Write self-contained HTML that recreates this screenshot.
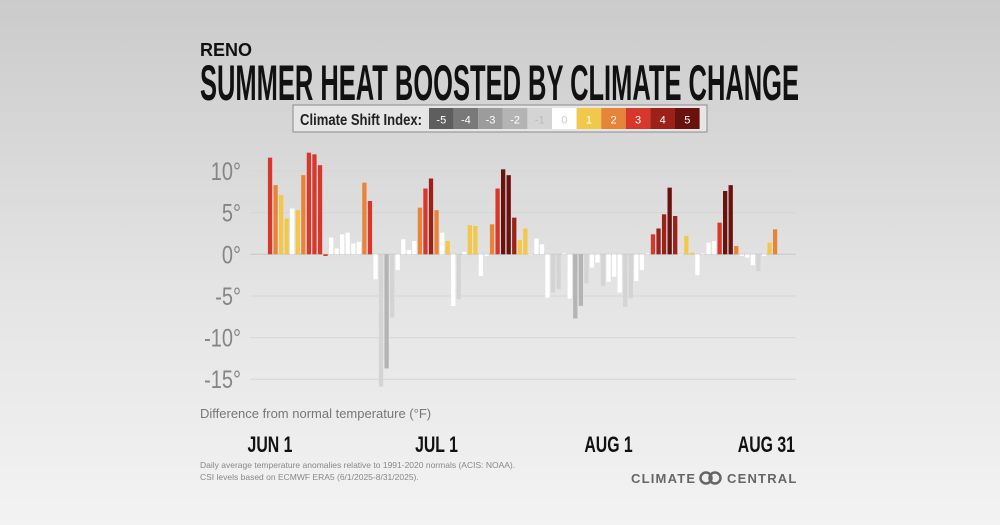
<!DOCTYPE html>
<html><head><meta charset="utf-8"><style>
html,body{margin:0;padding:0;width:1000px;height:525px;overflow:hidden}
svg{display:block}
</style></head><body>
<svg id="chart" width="1000" height="525" viewBox="0 0 1000 525" xmlns="http://www.w3.org/2000/svg">
<defs><linearGradient id="bg" x1="0" y1="0" x2="0" y2="1"><stop offset="0" stop-color="#cbcbcb"/><stop offset="0.55" stop-color="#e4e4e4"/><stop offset="1" stop-color="#f3f3f3"/></linearGradient></defs>
<rect width="1000" height="525" fill="url(#bg)"/>
<text x="200" y="56" font-family="Liberation Sans, sans-serif" font-weight="bold" font-size="18" fill="#111">RENO</text>
<text x="200" y="100" font-family="Liberation Sans, sans-serif" font-weight="bold" font-size="50" fill="#111" textLength="599" lengthAdjust="spacingAndGlyphs">SUMMER HEAT BOOSTED BY CLIMATE CHANGE</text>
<g>
<rect x="293" y="105" width="414" height="27" fill="#e6e6e6" stroke="#9a9a9a" stroke-width="1.2"/>
<text x="300" y="125" font-family="Liberation Sans, sans-serif" font-weight="bold" font-size="16" fill="#222" textLength="122" lengthAdjust="spacingAndGlyphs">Climate Shift Index:</text>
<g id="legendSw"></g>
</g>
<g id="grid"></g>
<g id="bars"></g>
<text x="200" y="418" font-family="Liberation Sans, sans-serif" font-size="13" fill="#777">Difference from normal temperature (°F)</text>
<g id="xlabels"></g>
<text x="200" y="468" font-family="Liberation Sans, sans-serif" font-size="8.5" fill="#888">Daily average temperature anomalies relative to 1991-2020 normals (ACIS: NOAA).</text>
<text x="200" y="480" font-family="Liberation Sans, sans-serif" font-size="8.5" fill="#888">CSI levels based on ECMWF ERA5 (6/1/2025-8/31/2025).</text>
<g>
<text x="631" y="483" font-family="Liberation Sans, sans-serif" font-weight="bold" font-size="13" fill="#666" letter-spacing="1.2">CLIMATE</text>
<circle cx="706" cy="478" r="5.5" fill="none" stroke="#666" stroke-width="2.5"/>
<circle cx="715" cy="478" r="5.5" fill="none" stroke="#666" stroke-width="2.5"/>
<text x="727" y="483" font-family="Liberation Sans, sans-serif" font-weight="bold" font-size="13" fill="#666" letter-spacing="1.2">CENTRAL</text>
</g>
</svg>
<script>
const values=[11.6,8.3,7.1,4.3,5.5,5.3,9.5,12.2,12.0,10.7,-0.2,2.0,0.7,2.4,2.6,1.3,1.5,8.6,6.4,-3.0,-15.9,-13.7,-7.6,-1.9,1.8,0.5,1.6,5.6,7.9,9.1,5.3,2.6,1.6,-6.2,-5.4,0.3,3.5,3.4,-2.6,-0.2,3.6,7.9,10.2,9.5,4.4,1.7,3.1,0,1.9,1.2,-5.2,-4.6,-4.2,0.1,-5.3,-7.7,-6.2,-3.5,-1.6,-1.0,-3.8,-3.3,-2.7,-4.6,-6.3,-5.3,-3.2,-1.9,0.1,2.4,3.1,4.8,8.0,4.6,0,2.2,0.2,-2.5,0.1,1.4,1.6,3.8,7.6,8.3,1.0,-0.2,-0.4,-1.3,-2.0,-0.2,1.4,3.0];
const csi=[3,2,1,1,0,1,2,3,3,3,3,0,0,0,0,0,0,2,3,0,-1,-2,-1,0,0,0,0,2,3,4,2,0,1,0,-1,0,1,1,0,0,2,3,5,5,4,1,1,0,0,0,0,-1,-1,0,0,-2,-2,-1,0,0,-1,0,0,0,-1,-1,0,0,0,3,4,4,5,4,0,1,1,0,0,0,0,3,5,5,2,0,0,0,-1,0,1,2];
const yTicks=[10,5,0,-5,-10,-15];
const yTickLabels=["10°","5°","0°","-5°","-10°","-15°"];
const xLabelDays=[0,30,61,91];
const xLabels=["JUN 1","JUL 1","AUG 1","AUG 31"];
const legendLevels=[-5,-4,-3,-2,-1,0,1,2,3,4,5];
const colors={"-5":"#5e5e5e","-4":"#797979","-3":"#9c9c9c","-2":"#b4b4b4","-1":"#d4d4d4","0":"#ffffff","1":"#f2c84b","2":"#e8833a","3":"#d8372c","4":"#9c2219","5":"#6a120d"};
const NS="http://www.w3.org/2000/svg";
const y=v=>254.3-v*8.33;
const x=i=>270+i*5.55;
function mk(t,a,p){const e=document.createElementNS(NS,t);for(const k in a)e.setAttribute(k,a[k]);p.appendChild(e);return e;}
const grid=document.getElementById('grid');
yTicks.forEach((t,i)=>{
  const l=mk('line',{x1:250,x2:796,y1:y(t),y2:y(t),stroke:t===0?'#c8c8c8':'#d6d6d6','stroke-width':1},grid);
  
  
  const tx=mk('text',{x:241,y:y(t)+9,'text-anchor':'end','font-family':'Liberation Sans, sans-serif','font-size':25,fill:'#858585',transform:`translate(241 0) scale(0.8 1) translate(-241 0)`},grid);
  tx.textContent=yTickLabels[i];
  
  
});
const bars=document.getElementById('bars');
values.forEach((v,i)=>{
  const top=Math.min(y(v),y(0)),h=Math.max(Math.abs(y(v)-y(0)),0.6);
  const r=mk('rect',{x:x(i)-2.1,y:top,width:4.3,height:h,fill:colors[String(csi[i])]},bars);
  
  
});
const xl=document.getElementById('xlabels');
xLabelDays.forEach((d,i)=>{
  const last=i===xLabelDays.length-1;
  const ax=last?795:x(d);
  const t=mk('text',{x:ax,y:452,'text-anchor':last?'end':'middle','font-family':'Liberation Sans, sans-serif','font-weight':'bold','font-size':22,fill:'#111',transform:`translate(${ax} 0) scale(0.72 1) translate(${-ax} 0)`},xl);
  t.textContent=xLabels[i];
  
  
});
const lg=document.getElementById('legendSw');
legendLevels.forEach((lv,i)=>{
  const sx=429+i*24.6;
  const r=mk('rect',{x:sx,y:108,width:24.6,height:21,fill:colors[String(lv)]},lg);
  
  
  const t=mk('text',{x:sx+12.3,y:123.5,'text-anchor':'middle','font-family':'Liberation Sans, sans-serif','font-size':11,fill:lv===0?'#ccc':(lv===-1?'#bbb':'#fff')},lg);
  t.textContent=String(lv);
  
  
});
</script>
</body></html>
